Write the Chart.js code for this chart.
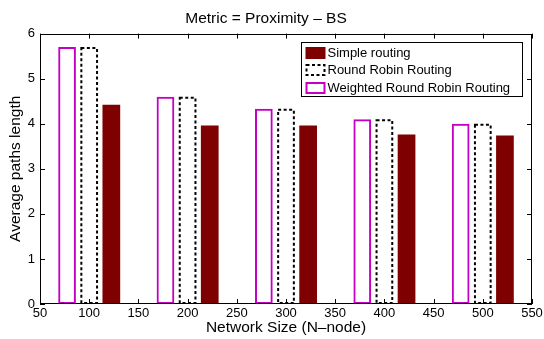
<!DOCTYPE html>
<html>
<head>
<meta charset="utf-8">
<script src="https://cdn.jsdelivr.net/npm/chart.js@4/dist/chart.umd.min.js"></script>
<style>
  html, body { margin: 0; padding: 0; background: #fff; }
  #wrap { width: 544px; height: 339px; }
</style>
</head>
<body>
<div id="wrap"><canvas id="c"></canvas></div>
<script>
// Network sizes (N-node) and average path lengths per routing scheme
const networkSizes = [100, 200, 300, 400, 500];
const simpleRouting = [4.42, 3.96, 3.96, 3.76, 3.74];
const roundRobinRouting = [5.70, 4.60, 4.33, 4.10, 4.00];
const weightedRoundRobinRouting = [5.70, 4.60, 4.33, 4.10, 4.00];

// Axis tick labels
const xTickValues = [50, 100, 150, 200, 250, 300, 350, 400, 450, 500, 550];
const yTickValues = [0, 1, 2, 3, 4, 5, 6];

const seriesNames = ['Simple routing', 'Round Robin Routing', 'Weighted Round Robin Routing'];

const FONT = "'Liberation Sans', Arial, Helvetica, sans-serif";
const MAGENTA = '#c400c4';
const DARK_RED = '#7f0000';

// Dashed outline for bars flagged with outlineDash
const dashedBars = {
  id: 'dashedBars',
  afterDatasetsDraw(chart) {
    const ctx = chart.ctx;
    chart.data.datasets.forEach((ds, i) => {
      if (!ds.outlineDash) return;
      const meta = chart.getDatasetMeta(i);
      meta.data.forEach(bar => {
        const { x, y, base, width } = bar.getProps(['x', 'y', 'base', 'width'], true);
        ctx.save();
        ctx.setLineDash(ds.outlineDash);
        ctx.lineWidth = 2;
        ctx.strokeStyle = '#000';
        ctx.strokeRect(x - width / 2 + 1, y + 1, width - 2, base - y - 2);
        ctx.restore();
      });
    });
  }
};

// Boxed axes with inward ticks on all four sides, plus the legend
const frame = {
  id: 'frame',
  afterDraw(chart) {
    const ctx = chart.ctx;
    const a = chart.chartArea;
    const xs = chart.scales.x, ys = chart.scales.y;
    const tl = 5;
    ctx.save();
    ctx.strokeStyle = '#000';
    ctx.lineWidth = 1;
    ctx.strokeRect(Math.round(a.left) + 0.5, Math.round(a.top) + 0.5,
                   Math.round(a.right - a.left) - 1, Math.round(a.bottom - a.top) - 1);
    ctx.beginPath();
    xTickValues.forEach(v => {
      const px = Math.round(xs.getPixelForValue(v)) + 0.5;
      ctx.moveTo(px, a.bottom); ctx.lineTo(px, a.bottom - tl);
      ctx.moveTo(px, a.top); ctx.lineTo(px, a.top + tl);
    });
    yTickValues.forEach(v => {
      const py = Math.round(ys.getPixelForValue(v)) + 0.5;
      ctx.moveTo(a.left, py); ctx.lineTo(a.left + tl, py);
      ctx.moveTo(a.right, py); ctx.lineTo(a.right - tl, py);
    });
    ctx.stroke();

    // Legend box
    const lw = 221, lh = 54;
    const lx = Math.round(a.right - 231) + 0.5, ly = Math.round(a.top + 8) + 0.5;
    ctx.fillStyle = '#fff';
    ctx.fillRect(lx, ly, lw, lh);
    ctx.strokeStyle = '#000';
    ctx.lineWidth = 1;
    ctx.strokeRect(lx, ly, lw, lh);

    const rows = [ly + 10, ly + 27.5, ly + 45];
    const sx = lx + 4, sw = 20, sh = 12;
    ctx.font = '13px ' + FONT;
    ctx.textBaseline = 'middle';
    ctx.textAlign = 'left';
    seriesNames.forEach((name, i) => {
      const cy = rows[i];
      const top = Math.round(cy - sh / 2);
      if (i === 0) {
        ctx.fillStyle = DARK_RED;
        ctx.fillRect(sx, top, sw, sh);
      } else if (i === 1) {
        ctx.save();
        ctx.setLineDash([3, 2.5]);
        ctx.lineWidth = 2;
        ctx.strokeStyle = '#000';
        ctx.strokeRect(sx + 1, top + 1, sw - 2, sh - 2);
        ctx.restore();
      } else {
        ctx.lineWidth = 2;
        ctx.strokeStyle = MAGENTA;
        ctx.strokeRect(sx + 1, top + 1, sw - 2, sh - 2);
      }
      ctx.fillStyle = '#000';
      ctx.fillText(name, lx + 26, cy + 0.5);
    });
    ctx.restore();
  }
};

new Chart(document.getElementById('c'), {
  type: 'bar',
  data: {
    labels: networkSizes,
    datasets: [
      {
        label: seriesNames[2],
        data: weightedRoundRobinRouting,
        xAxisID: 'xc',
        backgroundColor: 'rgba(255,255,255,0)',
        borderColor: MAGENTA,
        borderWidth: 2,
        borderSkipped: false
      },
      {
        label: seriesNames[1],
        data: roundRobinRouting,
        xAxisID: 'xc',
        backgroundColor: 'rgba(255,255,255,0)',
        borderWidth: 0,
        outlineDash: [3, 2.5]
      },
      {
        label: seriesNames[0],
        data: simpleRouting,
        xAxisID: 'xc',
        backgroundColor: DARK_RED,
        borderWidth: 0
      }
    ]
  },
  options: {
    responsive: true,
    maintainAspectRatio: false,
    animation: false,
    devicePixelRatio: 1,
    categoryPercentage: 0.675,
    barPercentage: 0.8,
    layout: { padding: { left: 0, right: 12, top: 0, bottom: 0 } },
    plugins: {
      legend: { display: false },
      tooltip: { enabled: false },
      title: {
        display: true,
        text: 'Metric = Proximity – BS',
        color: '#000',
        font: { family: FONT, size: 15.5, weight: 'normal' },
        padding: { top: 9, bottom: 6 }
      }
    },
    scales: {
      // Category axis that places the bar groups; spans the same range as x
      xc: {
        type: 'category',
        position: 'bottom',
        display: false,
        offset: true,
        grid: { display: false }
      },
      x: {
        type: 'linear',
        position: 'bottom',
        min: 50,
        max: 550,
        offset: false,
        afterBuildTicks: s => { s.ticks = xTickValues.map(v => ({ value: v })); },
        afterFit: s => { s.height = 35; s.paddingRight = 0; s.paddingLeft = 0; },
        grid: { display: false, drawTicks: false, offset: false },
        border: { display: false },
        ticks: {
          color: '#000',
          padding: 2,
          maxRotation: 0,
          autoSkip: false,
          font: { family: FONT, size: 13 }
        },
        title: {
          display: true,
          text: 'Network Size (N–node)',
          color: '#000',
          font: { family: FONT, size: 15.5 },
          padding: { top: 0, bottom: 2 }
        }
      },
      y: {
        type: 'linear',
        min: 0,
        max: 6,
        afterBuildTicks: s => { s.ticks = yTickValues.map(v => ({ value: v })); },
        afterFit: s => { s.width = 40; },
        grid: { display: false, drawTicks: false },
        border: { display: false },
        ticks: {
          color: '#000',
          padding: 5,
          font: { family: FONT, size: 13 }
        },
        title: {
          display: true,
          text: 'Average paths length',
          color: '#000',
          font: { family: FONT, size: 15.5 },
          padding: { top: 6, bottom: 0 }
        }
      }
    }
  },
  plugins: [dashedBars, frame]
});
</script>
</body>
</html>
